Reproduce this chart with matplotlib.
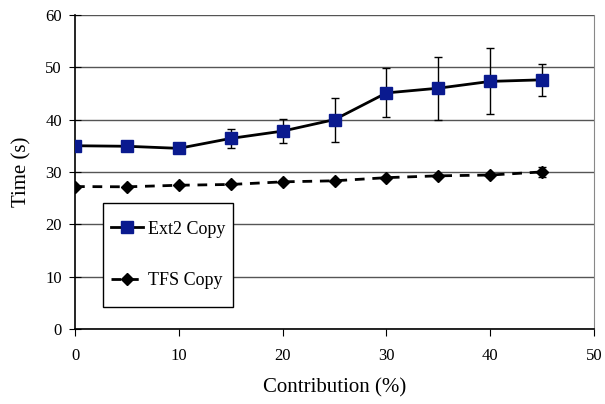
import matplotlib
matplotlib.use("Agg")
import matplotlib.pyplot as plt
from matplotlib.lines import Line2D
from matplotlib.patches import Rectangle

plt.rcParams['font.family'] = ['Liberation Serif', 'DejaVu Serif']

contribution = [0, 5, 10, 15, 20, 25, 30, 35, 40, 45]
ext2_time = [35.0, 34.9, 34.5, 36.4, 37.8, 40.0, 45.1, 46.0, 47.3, 47.6]
ext2_err = [0, 0, 0, 1.8, 2.3, 4.2, 4.7, 6.0, 6.3, 3.1]
tfs_time = [27.2, 27.15, 27.45, 27.6, 28.1, 28.3, 28.9, 29.25, 29.4, 30.0]
tfs_err = [0, 0, 0, 0, 0.3, 0, 0, 0, 0.3, 1.0]

fig = plt.figure(figsize=(6.05, 4.04), dpi=100)
ax = fig.add_axes([0.124, 0.186, 0.858, 0.777])

ext2_style = dict(color='black', lw=2, marker='s', ms=8,
                  mfc='#0a1a8f', mec='#0a1a8f')
tfs_style = dict(color='black', lw=2, ls=(0, (3.5, 2.8)), marker='D', ms=6,
                 mfc='black', mec='black')

ax.errorbar(contribution, ext2_time, yerr=ext2_err, ecolor='black',
            elinewidth=1, capsize=3, zorder=3, **ext2_style)
ax.errorbar(contribution, tfs_time, yerr=tfs_err, ecolor='black',
            elinewidth=1, capsize=3, zorder=3, **tfs_style)

ax.set_xlim(0, 50)
ax.set_ylim(0, 60)
ax.set_xticks(range(0, 51, 10))
ax.set_yticks(range(0, 61, 10))
ax.grid(axis='y', color='#555555', lw=1)
ax.set_axisbelow(True)

ax.spines['top'].set_visible(False)
ax.spines['right'].set_color('#888888')
ax.spines['left'].set_linewidth(1.2)
ax.spines['bottom'].set_linewidth(1.2)
ax.tick_params(axis='x', direction='out', length=5, labelsize=12, pad=9)
ax.tick_params(axis='y', direction='inout', length=9, labelsize=12, pad=5)

ax.set_xlabel('Contribution (%)', fontsize=15, labelpad=10)
ax.set_ylabel('Time (s)', fontsize=15, labelpad=10)

# legend box (white, black edge) drawn over the gridlines
ax.add_patch(Rectangle((0.054, 0.070), 0.250, 0.332, transform=ax.transAxes,
                       facecolor='white', edgecolor='black', lw=1, zorder=4))
handles = [Line2D([], [], **ext2_style), Line2D([], [], **tfs_style)]
leg = ax.legend(handles, ['Ext2 Copy', 'TFS Copy'], loc='center',
                bbox_to_anchor=(0.179, 0.236), fontsize=13, frameon=False,
                labelspacing=1.9, handlelength=1.8, handletextpad=0.25,
                borderpad=0, borderaxespad=0)
leg.set_zorder(5)

fig.savefig('out.png', dpi=100)
